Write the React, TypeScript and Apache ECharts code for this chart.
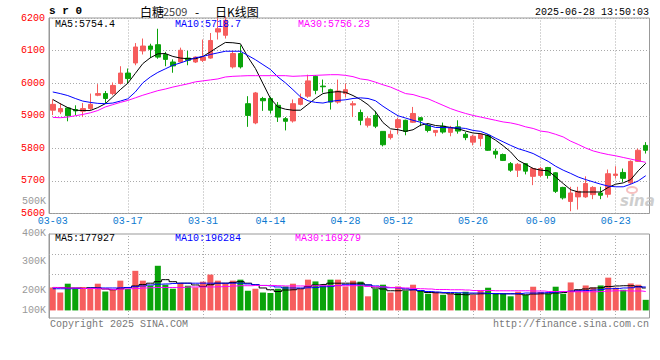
import React, { useEffect, useRef } from "react";
import * as echarts from "echarts";

// ---------- data ----------
const dates = [
  "03-03","03-04","03-05","03-06","03-07","03-10","03-11","03-12","03-13","03-14",
  "03-17","03-18","03-19","03-20","03-21","03-24","03-25","03-26","03-27","03-28",
  "03-31","04-01","04-02","04-03","04-07","04-08","04-09","04-10","04-11","04-14",
  "04-15","04-16","04-17","04-18","04-21","04-22","04-23","04-24","04-25","04-28",
  "04-29","04-30","05-06","05-07","05-08","05-09","05-12","05-13","05-14","05-15",
  "05-16","05-19","05-20","05-21","05-22","05-23","05-26","05-27","05-28","05-29",
  "05-30","06-03","06-04","06-05","06-06","06-09","06-10","06-11","06-12","06-13",
  "06-16","06-17","06-18","06-19","06-20","06-23","06-24","06-25","06-26","06-27",
];
const tickDates = ["03-03","03-17","03-31","04-14","04-28","05-12","05-26","06-09","06-23"];

const opens = [
  5917,5912,5924,5919,5914,5922,5963,5968,5968,5999,
  6031,6062,6099,6114,6118,6088,6065,6065,6077,6065,
  6070,6077,6157,6147,6050,6091,5937,5878,5953,5953,
  5932,5891,5884,5935,5960,6021,5991,5980,5942,5968,
  5933,5910,5871,5901,5852,5833,5864,5886,5880,5894,
  5871,5849,5868,5849,5866,5843,5819,5830,5840,5791,
  5781,5753,5733,5753,5714,5717,5741,5725,5680,5637,
  5651,5651,5658,5663,5659,5717,5726,5694,5760,5809,
];
const closes = [
  5935,5922,5900,5915,5922,5935,5968,5953,5993,6031,
  6014,6111,6114,6104,6080,6073,6053,6101,6070,6080,
  6080,6131,6167,6193,6091,6050,5901,5970,5946,5917,
  5896,5883,5937,5953,6007,5978,5989,5942,5976,5980,
  5937,5886,5891,5868,5811,5843,5888,5852,5907,5886,
  5855,5855,5850,5864,5853,5833,5837,5843,5794,5782,
  5763,5733,5751,5730,5738,5738,5717,5668,5648,5663,
  5668,5692,5680,5656,5722,5721,5708,5760,5794,5794,
];
const lows = [
  5902,5905,5883,5902,5896,5917,5960,5937,5963,5996,
  5999,6055,6088,6077,6075,6052,6032,6062,6055,6062,
  6065,6075,6134,6137,6045,6045,5866,5874,5915,5907,
  5881,5855,5879,5932,5955,5966,5971,5919,5937,5956,
  5896,5871,5864,5862,5806,5827,5843,5840,5878,5868,
  5849,5837,5845,5837,5845,5825,5809,5806,5792,5769,
  5761,5728,5712,5720,5687,5712,5707,5663,5643,5607,
  5612,5648,5644,5644,5649,5707,5697,5690,5758,5784,
];
const highs = [
  5950,5939,5926,5932,5939,5968,5997,5976,6002,6052,
  6045,6123,6137,6121,6167,6096,6073,6109,6099,6082,
  6134,6154,6200,6205,6099,6116,5960,5973,5958,5958,
  5942,5896,5950,5968,6026,6024,6011,5983,6011,5999,
  5945,5919,5898,5915,5852,5855,5894,5888,5927,5896,
  5876,5855,5879,5869,5886,5850,5842,5847,5843,5799,
  5784,5758,5755,5755,5741,5743,5743,5727,5682,5682,
  5682,5714,5684,5682,5735,5745,5738,5763,5799,5819,
];

const ma5 = [
  5950,5937,5925,5917,5916,5916,5925,5937,5958,5980,
  6000,6030,6060,6078,6090,6091,6082,6077,6075,6075,
  6082,6096,6111,6125,6124,6121,6080,6045,5999,5953,
  5927,5920,5917,5917,5935,5953,5968,5972,5974,5972,
  5962,5950,5934,5912,5879,5860,5857,5852,5857,5871,
  5876,5870,5868,5864,5860,5853,5847,5845,5839,5825,
  5808,5789,5763,5751,5738,5733,5731,5712,5692,5673,
  5666,5666,5666,5666,5680,5690,5694,5704,5731,5754,
];
const ma10 = [
  5973,5968,5962,5953,5945,5941,5938,5937,5939,5945,
  5952,5973,6001,6019,6033,6044,6055,6062,6070,6078,
  6082,6088,6093,6098,6098,6098,6085,6072,6057,6042,
  6019,6001,5980,5958,5946,5941,5939,5944,5947,5949,
  5953,5955,5953,5946,5929,5914,5900,5893,5886,5880,
  5871,5864,5864,5863,5863,5861,5855,5852,5843,5831,
  5820,5809,5799,5792,5784,5772,5760,5745,5733,5723,
  5712,5704,5697,5690,5684,5682,5682,5690,5700,5716,
];
const ma30 = [
  5895,5894,5896,5900,5904,5909,5916,5927,5934,5941,
  5947,5955,5963,5970,5977,5982,5988,5993,5998,6004,
  6007,6010,6013,6019,6021,6022,6023,6023,6023,6023,
  6023,6023,6021,6022,6023,6024,6025,6026,6026,6024,
  6020,6013,6010,6003,5995,5988,5978,5968,5965,5958,
  5952,5942,5932,5922,5914,5907,5901,5896,5891,5886,
  5881,5878,5873,5866,5861,5853,5850,5843,5835,5822,
  5812,5801,5792,5786,5781,5777,5772,5767,5762,5757,
];

// volumes in thousands
const volumes = [
  191,171,206,186,193,186,206,175,182,218,
  186,257,218,199,277,202,186,208,198,191,
  214,242,218,208,218,222,178,186,171,169,
  186,195,206,186,222,215,199,222,222,195,
  218,214,156,186,202,171,195,178,202,178,
  166,174,162,166,169,174,162,179,190,166,
  166,156,174,162,194,173,166,194,166,211,
  182,199,191,199,230,190,182,207,202,142,
];
const volMa5 = [
  191,191,189,189,187,190,189,185,182,186,
  191,197,203,208,214,222,214,208,208,201,
  195,202,208,208,211,214,208,202,189,182,
  175,181,182,186,195,201,203,208,208,208,
  208,208,201,189,185,178,178,181,182,177,
  171,170,169,166,163,162,165,166,167,166,
  166,166,165,162,165,166,166,169,171,175,
  182,185,189,190,195,197,198,198,195,189,
];
const volMa10 = [
  186,186,186,187,187,189,189,189,189,190,
  191,194,197,201,204,205,207,208,208,208,
  208,208,208,208,208,208,205,202,199,197,
  193,189,189,189,190,191,194,195,199,202,
  202,201,201,197,193,190,189,186,182,179,
  175,173,171,171,170,169,169,169,167,167,
  166,166,167,169,169,170,171,173,175,177,
  178,179,181,183,186,187,189,190,193,193,
];
const volMa30 = [
  191,190,189,189,187,187,186,185,183,185,
  186,187,189,190,191,191,191,191,193,193,
  193,193,194,195,197,198,198,199,199,199,
  198,197,197,197,197,198,198,198,198,198,
  198,198,195,194,193,191,190,189,187,186,
  185,183,183,182,182,181,179,179,179,178,
  178,178,178,178,177,177,175,175,175,174,
  174,174,174,175,177,178,178,177,177,175,
];
const volBase = 100; // thousands, bars start here
const volGridValues = [242, 321];
const volTickLabels = ["500K", "400K", "300K", "200K", "100K"];

const mainLegend = ["MA5:5754.4", "MA10:5718.7", "MA30:5756.23"];
const volLegend = ["MA5:177927", "MA10:196284", "MA30:169279"];
const symbolText = "s r 0";
const titleParts = ["白糖", "2509", "-", "日K线图"];
const timeText = "2025-06-28 13:50:03";
const copyrightText = "Copyright 2025 SINA.COM";
const urlText = "http://finance.sina.com.cn";

// ---------- styles ----------
const RED = "#f65d5d";
const GREEN = "#0aa30a";
const MONO = "'Liberation Mono', 'DejaVu Sans Mono', monospace";
const CJK = "'Noto Sans CJK SC', sans-serif";
const GRIDC = "#aaaaaa";
const DOT = [1, 2];

export default function App() {
  const ref = useRef<HTMLDivElement>(null);
  useEffect(() => {
    if (!ref.current) return;
    const chart = echarts.init(ref.current, undefined, { renderer: "svg" });
    const gridLineStyle = { color: GRIDC, type: DOT, width: 1 };
    const vLines = tickDates.slice(1).map((d) => ({ xAxis: d }));
    const txt = (
      x: number, y: number, text: string, fill: string, font: string,
      align: string = "left"
    ) => ({
      type: "text", x, y, z: 100, silent: true,
      style: { text, fill, font, textAlign: align, textVerticalAlign: "middle" },
    });
    const lineColors = ["#000000", "#0000ff", "#ff00ff"];

    const option: any = {
      animation: false,
      backgroundColor: "#ffffff",
      grid: [
        { left: 49, width: 600.5, top: 18, height: 195.5, show: true, borderColor: "#999", borderWidth: 1 },
        { left: 49, width: 600.5, top: 234, height: 84, show: true, borderColor: "#999", borderWidth: 1 },
      ],
      xAxis: [
        {
          type: "category", gridIndex: 0, data: dates, boundaryGap: true,
          axisLine: { show: false }, axisTick: { show: false }, splitLine: { show: false },
          axisLabel: {
            interval: (i: number, v: string) => tickDates.includes(v),
            color: "#0b79d0", fontSize: 10, fontFamily: MONO, margin: 3,
          },
        },
        {
          type: "category", gridIndex: 1, data: dates, boundaryGap: true,
          axisLine: { show: false }, axisTick: { show: false },
          axisLabel: { show: false }, splitLine: { show: false },
        },
      ],
      yAxis: [
        {
          type: "value", gridIndex: 0, min: 5600, max: 6200, interval: 100,
          axisLine: { show: true, lineStyle: { color: "#999" } }, axisTick: { show: false },
          axisLabel: {
            color: "#ff0000", fontSize: 10, fontFamily: MONO, margin: 4,
            formatter: (v: number) => String(v),
          },
          splitLine: { show: true, lineStyle: gridLineStyle },
        },
        {
          type: "value", gridIndex: 1, min: 70, max: 403,
          axisLine: { show: true, lineStyle: { color: "#999" } }, axisTick: { show: false },
          axisLabel: { show: false }, splitLine: { show: false },
        },
      ],
      series: [
        {
          type: "line", xAxisIndex: 0, yAxisIndex: 0, z: 1, silent: true,
          data: dates.map(() => null), symbol: "none",
          markLine: {
            silent: true, symbol: ["none", "none"], label: { show: false },
            lineStyle: gridLineStyle, data: vLines, animation: false,
          },
        },
        {
          type: "candlestick", xAxisIndex: 0, yAxisIndex: 0, z: 5, barWidth: 5,
          data: dates.map((_, i) => [opens[i], closes[i], lows[i], highs[i]]),
          itemStyle: { color: RED, color0: GREEN, borderColor: RED, borderColor0: GREEN, borderWidth: 1 },
        },
        ...[ma5, ma10, ma30].map((d, k) => ({
          type: "line", xAxisIndex: 0, yAxisIndex: 0, z: 6, data: d, symbol: "none",
          lineStyle: { color: lineColors[k], width: 1 }, silent: true,
        })),
        {
          type: "line", xAxisIndex: 1, yAxisIndex: 1, z: 1, silent: true,
          data: dates.map(() => null), symbol: "none",
          markLine: {
            silent: true, symbol: ["none", "none"], label: { show: false },
            lineStyle: gridLineStyle, animation: false,
            data: [...vLines, ...volGridValues.map((v) => ({ yAxis: v }))],
          },
        },
        {
          type: "custom", xAxisIndex: 1, yAxisIndex: 1, z: 5,
          data: volumes.map((v, i) => [i, v]),
          encode: { x: 0, y: 1 },
          renderItem: (params: any, api: any) => {
            const i = api.value(0);
            const top = api.coord([i, api.value(1)]);
            const base = api.coord([i, volBase]);
            const w = api.size([1, 0])[0] * 0.8;
            const up = closes[i] >= opens[i];
            return {
              type: "rect",
              shape: { x: top[0] - w / 2, y: top[1], width: w, height: base[1] - top[1] },
              style: { fill: up ? RED : GREEN },
            };
          },
        },
        ...[volMa5, volMa10, volMa30].map((d, k) => ({
          type: "line", xAxisIndex: 1, yAxisIndex: 1, z: 6, data: d, symbol: "none",
          step: "middle", lineStyle: { color: lineColors[k], width: 1 }, silent: true,
        })),
      ],
      graphic: [
        txt(49, 11, symbolText, "#000", `bold 11px ${MONO}`),
        txt(140, 11, titleParts[0], "#000", `12px ${CJK}`),
        txt(163, 11, titleParts[1], "#444", `11px ${CJK}`),
        txt(197, 11, titleParts[2], "#000", `12px ${CJK}`, "center"),
        txt(215, 11, titleParts[3], "#000", `12px ${CJK}`),
        txt(649, 12, timeText, "#000", `10px ${MONO}`, "right"),
        txt(55, 24, mainLegend[0], lineColors[0], `10px ${MONO}`),
        txt(175, 24, mainLegend[1], lineColors[1], `10px ${MONO}`),
        txt(298, 24, mainLegend[2], lineColors[2], `10px ${MONO}`),
        txt(55, 238.5, volLegend[0], lineColors[0], `10px ${MONO}`),
        txt(175, 238.5, volLegend[1], lineColors[1], `10px ${MONO}`),
        txt(295, 238.5, volLegend[2], lineColors[2], `10px ${MONO}`),
        txt(46, 201, volTickLabels[0], "#999", `10px ${MONO}`, "right"),
        txt(46, 233, volTickLabels[1], "#999", `10px ${MONO}`, "right"),
        txt(46, 261, volTickLabels[2], "#999", `10px ${MONO}`, "right"),
        txt(46, 290, volTickLabels[3], "#999", `10px ${MONO}`, "right"),
        txt(46, 310, volTickLabels[4], "#999", `10px ${MONO}`, "right"),
        txt(50, 324, copyrightText, "#777", `10px ${MONO}`),
        txt(649, 324, urlText, "#777", `10px ${MONO}`, "right"),
        {
          type: "ellipse", z: 50, silent: true,
          shape: { cx: 632, cy: 190, rx: 5, ry: 3 },
          style: { fill: "none", stroke: "rgba(240,150,150,0.6)", lineWidth: 2 },
        },
        txt(620, 201, "sina", "rgba(190,190,190,0.75)", `italic bold 15px 'DejaVu Sans', sans-serif`),
      ],
    };
    chart.setOption(option);
    return () => chart.dispose();
  }, []);
  return (
    <div
      ref={ref}
      style={{ position: "fixed", left: 0, top: 0, width: 660, height: 360, background: "#fff" }}
    />
  );
}
